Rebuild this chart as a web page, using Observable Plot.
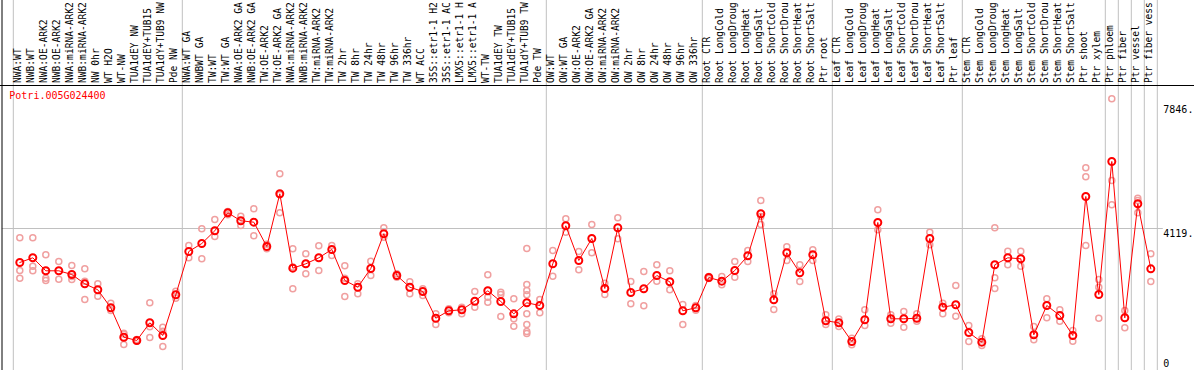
<!DOCTYPE html>
<html><head><meta charset="utf-8">
<script src="https://cdn.jsdelivr.net/npm/d3@7"></script>
<script src="https://cdn.jsdelivr.net/npm/@observablehq/plot@0.6"></script>
<style>body{margin:0;background:#fff} svg{display:block}</style>
</head><body><div id="chart"></div>
<script>
const title = "Potri.005G024400";
const categories = [
"NWA:WT","NWB:WT","NWA:OE-ARK2","NWB:OE-ARK2","NWA:miRNA-ARK2","NWB:miRNA-ARK2","NW 0hr","WT H2O","WT-NW","TUA1dEY NW","TUA1dEY+TUB15","TUA1dY+TUB9 NW","Pde NW",
"NWA:WT GA","NWBWT GA","TW:WT","TW:WT GA","NWA:OE-ARK2 GA","NWB:OE-ARK2 GA","TW:OE-ARK2","TW:OE-ARK2 GA","NWA:miRNA-ARK2","NWB:miRNA-ARK2","TW:miRNA-ARK2","TW:miRNA-ARK2",
"TW 2hr","TW 8hr","TW 24hr","TW 48hr","TW 96hr","TW 336hr","WT ACC","35S::etr1-1 H2","35S::etr1-1 AC","LMX5::etr1-1 H","LMX5::etr1-1 A","WT-TW","TUA1dEY TW","TUA1dEY+TUB15","TUA1dY+TUB9 TW","Pde TW",
"OW:WT","OW:WT GA","OW:OE-ARK2","OW:OE-ARK2 GA","OW:miRNA-ARK2","OW:miRNA-ARK2","OW 2hr","OW 8hr","OW 24hr","OW 48hr","OW 96hr","OW 336hr",
"Root CTR","Root LongCold","Root LongDroug","Root LongHeat","Root LongSalt","Root ShortCold","Root ShortDrou","Root ShortHeat","Root ShortSalt","Ptr root",
"Leaf CTR","Leaf LongCold","Leaf LongDroug","Leaf LongHeat","Leaf LongSalt","Leaf ShortCold","Leaf ShortDrou","Leaf ShortHeat","Leaf ShortSalt","Ptr leaf",
"Stem CTR","Stem LongCold","Stem LongDroug","Stem LongHeat","Stem LongSalt","Stem ShortCold","Stem ShortDrou","Stem ShortHeat","Stem ShortSalt",
"Ptr shoot","Ptr xylem","Ptr phloem","Ptr fiber","Ptr vessel","Ptr fiber vess"];
const means = [
3097,3238,2847,2847,2736,2456,2276,1735,851,752,1284,902,2126,
3428,3668,4050,4591,4351,4309,3578,5163,2926,3058,3238,3488,
2556,2354,2917,3960,2706,2354,2225,1422,1645,1675,1933,2246,1924,1554,1885,1804,
3058,4200,3157,3819,2315,4140,2195,2306,2706,2517,1645,1735,
2646,2535,2856,3298,4561,1975,3389,2787,3328,1344,
1284,722,1374,4300,1404,1404,1422,3819,1753,1825,
992,701,3028,3238,3208,923,1804,1503,902,
5081,2135,6134,1434,4862,2907];
const replicates = [
[3840,2856,2625],[3840,2986,2847],[3328,2625,2556],[3127,2595],[3007,2676,2586],[2907,2535,1984],[2456,2084],[1873,1654],[971,947,631],[782,731],[1885,1164,842],[1152,1031,571],[2234,2024],
[3608,3238],[4110,3208],[4390,3879],[4630,4591,4530],[4489,4209],[4711,3900],[3647,3509],[5764,4591,5133],[3509,2306,2962],[3358,2757],[3598,2856],[3608,3307],
[2998,2625,2075],[2456,2156],[3136,2706],[4140,3858],[2757,2655],[2520,2156],[2306,2105],[1554,1233],[1585,1705],[1753,1554],[2225,1753],[2727,2054,1903],[2204,2135,1473],[2005,1404,1182],[3518,2435,2255,2126,1554,1233,1022,962],[1984,1585],
[3458,2685],[4411,4008],[3428,2877],[4239,3389],[2475,2135],[4441,3810],[2526,1855],[2826,1795],[3028,2535],[2847,2276],[1834,1233],[1804,1663],
[2676,2616],[2676,2426],[3127,2655],[3458,3127],[4961,4239,4480],[2156,1684],[3568,3157],[3028,2526],[3479,3157],[1524,1233],
[1173,1395],[622,821],[1675,1203],[4681,4080],[1524,1272],[1624,1152],[1554,1332],[4008,3629],[1873,1554],[2405,1482],
[1203,722],[803,601],[4140,2637,2315],[3437,3028],[3437,2986],[1173,773],[2005,1434],[1675,1332],[1052,731],
[5944,5674,3608],[2586,2354,1422],[8019,5562,4832],[1654,1134],[5030,4961,4591],[3358,2526]];
const separators = [-0.5, 12.5, 40.5, 52.5, 62.5, 72.5, 83.5, 84.5, 85.5, 86.5, 87.5];
const yTickValues = [0, 4119, 7846];
const yTickLabels = ["0", "4119.", "7846."];
const yMax = 8418;

const meanRows = means.map((v, i) => ({i, v}));
const repRows = replicates.flatMap((arr, i) => arr.map(v => ({i, v})));
const font = "DejaVu Sans Mono";

const chart = Plot.plot({
  width: 1194, height: 370,
  marginTop: 85, marginBottom: 5, marginLeft: 12.8, marginRight: 37.2,
  style: {fontFamily: font, fontSize: "10px", background: "#fff"},
  x: {type: "linear", domain: [-0.5, categories.length - 0.5], axis: null},
  y: {type: "linear", domain: [0, yMax], axis: null},
  marks: [
    Plot.ruleX(separators, {x: d => d, stroke: "#c0c0c0", strokeWidth: 1, insetTop: -85, insetBottom: -5}),
    Plot.ruleY([yTickValues[1]], {stroke: "#c0c0c0", strokeWidth: 1, insetLeft: -11, insetRight: -6}),
    Plot.frame({anchor: "top", stroke: "#000", strokeOpacity: 1, insetLeft: -12.8, insetRight: -37.2}),
    Plot.frame({anchor: "left", stroke: "#000", strokeOpacity: 1, insetLeft: -11.3, insetTop: -85, insetBottom: -5}),
    Plot.dot(repRows, {x: "i", y: "v", r: 3, stroke: "#f0a0a0", strokeWidth: 1.5, fill: "none"}),
    Plot.line(meanRows, {x: "i", y: "v", stroke: "#ff0000", strokeWidth: 1}),
    Plot.dot(meanRows, {x: "i", y: "v", r: 3.5, stroke: "#ff0000", strokeWidth: 2, fill: "none"}),
    Plot.text(categories, {x: (d, i) => i, frameAnchor: "top", text: d => d, rotate: -90, textAnchor: "start", lineAnchor: "middle", dy: -2.5, dx: -1.5, fill: "#000", fontFamily: font, fontSize: 9.6}),
    Plot.text([title], {frameAnchor: "top-left", text: d => d, textAnchor: "start", lineAnchor: "top", dx: -4, dy: 6, fill: "#ff0000", fontFamily: font, fontSize: 10}),
    Plot.text(yTickValues.slice(1), {y: d => d, frameAnchor: "right", text: (d, i) => yTickLabels[i + 1], textAnchor: "start", lineAnchor: "top", dx: 6, dy: 1, fill: "#000", fontFamily: font, fontSize: 10}),
    Plot.text(yTickValues.slice(0, 1), {y: d => d, frameAnchor: "right", text: (d, i) => yTickLabels[i], textAnchor: "start", lineAnchor: "bottom", dx: 6, dy: 1, fill: "#000", fontFamily: font, fontSize: 10})
  ]
});
document.getElementById("chart").appendChild(chart);
</script>
</body></html>
